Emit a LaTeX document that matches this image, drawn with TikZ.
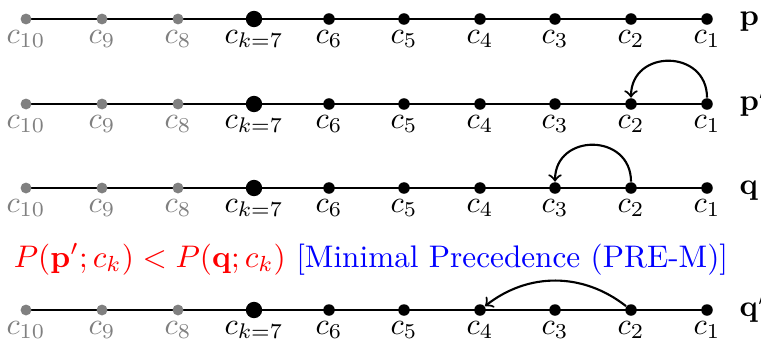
\documentclass[tikz,border=0pt]{standalone}
\usepackage{amsmath}
\usetikzlibrary{backgrounds}
\begin{document}
\begin{tikzpicture}[x=0.33pt,y=-0.33pt,
  dot/.style={circle,fill=black,inner sep=0pt,minimum size=3.8pt},
  gdot/.style={dot,fill=gray,minimum size=3.6pt},
  bigdot/.style={dot,minimum size=5.4pt},
  clab/.style={anchor=base,inner sep=0pt},
  rlab/.style={anchor=mid west,inner sep=0pt,font=\bfseries},
  seq/.style={line width=0.7pt},
  arr/.style={->,line width=0.7pt}]
\useasboundingbox (0,0) rectangle (761,341);
\foreach \r/\y in {a/19,b/104,c/188,d/310} {
  \foreach \i/\x in {10/26,9/102,8/178} {
    \node[gdot] (\r\i) at (\x,\y) {};
    \node[clab,text=gray] (\r l\i) at (\x,\y+24) {$c_{\i}$};
  }
  \node[bigdot] (\r7) at (254,\y) {};
  \node[clab] (\r l7) at (254,\y+24) {$c_{k=7}$};
  \foreach \i/\x in {6/329,5/404,4/480,3/555,2/631,1/707} {
    \node[dot] (\r\i) at (\x,\y) {};
    \node[clab] (\r l\i) at (\x,\y+24) {$c_{\i}$};
  }
  \begin{scope}[on background layer]
    \draw[seq] (\r10.center) -- (\r1.center);
  \end{scope}
}
\node[rlab] (pa) at (739,19) {$\mathbf{p}$};
\node[rlab] (pb) at (739,104) {$\mathbf{p}'$};
\node[rlab] (pc) at (739,188) {$\mathbf{q}$};
\node[rlab] (pd) at (739,310) {$\mathbf{q}'$};
\draw[arr] (b1) to[out=90,in=90,looseness=1.65] (b2);
\draw[arr] (c2) to[out=90,in=90,looseness=1.65] (c3);
\draw[arr] (d2) to[bend right=38] (d4);
\node[anchor=base,inner sep=0pt,scale=1.03] (txt) at (371,267) {\color{red}$P(\mathbf{p}';c_k)<P(\mathbf{q};c_k)$ \color{blue}[Minimal Precedence (PRE-M)]};
\end{tikzpicture}
\end{document}
